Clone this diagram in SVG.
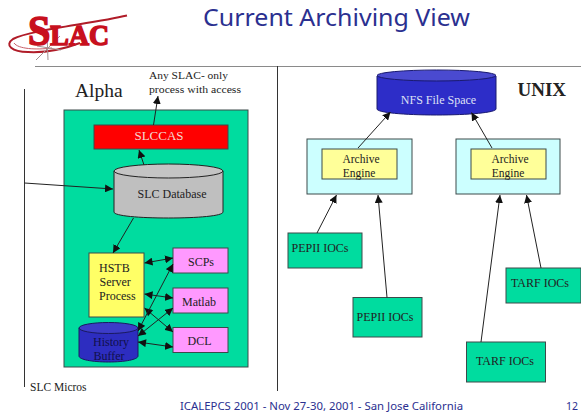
<svg xmlns="http://www.w3.org/2000/svg" width="581" height="415" viewBox="0 0 581 415">
<style>
.s{font-family:"Liberation Serif","Times New Roman",serif;fill:#222}
.t{font-family:"Noto Sans","DejaVu Sans",sans-serif;fill:#2b3090}
.b{stroke:#3c4a4a;stroke-width:1}
.c{stroke:#222;stroke-width:1}
.e{stroke:#222;stroke-width:1}
.a{stroke:#222;stroke-width:1;fill:none;marker-end:url(#h)}
.d{stroke:#222;stroke-width:1;fill:none;marker-end:url(#h);marker-start:url(#hs)}
.m{text-anchor:middle;font-size:12px}
</style>
<defs>
<marker id="h" markerUnits="userSpaceOnUse" markerWidth="9" markerHeight="8" refX="8" refY="4" orient="auto"><path d="M0 0L8 4L0 8z" fill="#111"/></marker>
<marker id="hs" markerUnits="userSpaceOnUse" markerWidth="9" markerHeight="8" refX="0" refY="4" orient="auto"><path d="M8 0L0 4L8 8z" fill="#111"/></marker>
</defs>
<rect width="581" height="415" fill="#fff"/>
<g id="logo">
<path d="M127 15.500C90 24 30 30 13 39C4 45 12 52 28 52C46 53 64 49 80 43" fill="none" stroke="#b01c28" stroke-width="2"/>
<path d="M14 43C18 49 36 50 52 48" fill="none" stroke="#c8606a" stroke-width="1"/>
<path d="M36 60L60 36M37 46L61 50M47 34L48 60M40 56L58 38" stroke="#a09090" stroke-width="1" fill="none"/>
<text x="28" y="45" font-family="Liberation Serif,serif" font-weight="bold" font-size="29" fill="#c8101e" stroke="#c8101e" stroke-width="1.600" textLength="81" lengthAdjust="spacingAndGlyphs"><tspan font-size="42">S</tspan>LAC</text>
</g>
<text id="title" class="t" x="203" y="26" font-size="24" textLength="267" lengthAdjust="spacingAndGlyphs">Current Archiving View</text>
<g id="frame">
<path d="M35 66.500H581" stroke="#8a8a8a" stroke-width="1" fill="none"/>
<path d="M277.500 66V391M24.500 89V387" stroke="#333" stroke-width="1" fill="none"/>
</g>
<text class="s" x="75" y="97" font-size="19.500">Alpha</text>
<text class="s" x="149" y="79" font-size="10.500" textLength="79" lengthAdjust="spacingAndGlyphs">Any SLAC- only</text>
<text class="s" x="149" y="93" font-size="10.500" textLength="92" lengthAdjust="spacingAndGlyphs">process with access</text>
<text class="s" x="517.500" y="96" font-size="19" font-weight="bold">UNIX</text>
<text class="s" x="30" y="391" font-size="11.500">SLC Micros</text>
<g id="alpha"><rect class="b" x="64" y="110" width="184" height="257" fill="#00dc9f"/></g>
<g id="slccas"><rect class="b" x="94" y="125" width="134" height="24" fill="#f00"/><text class="s m" x="159" y="140" style="fill:#f4d8d0;font-size:13px">SLCCAS</text></g>
<g id="slcdb">
<path class="c" d="M114 171V212C114 216 140 218 168.500 218S223 216 223 212V171z" fill="#bfbfbf"/>
<ellipse class="e" cx="168.500" cy="171" rx="54.500" ry="7" fill="#c4c4c4"/>
<text class="s m" x="172" y="198">SLC Database</text>
</g>
<g id="hstb"><rect class="b" x="89" y="253" width="55" height="64" fill="#ffff66"/>
<text class="s" x="99" y="272" font-size="12">HSTB</text><text class="s" x="99.500" y="286" font-size="12">Server</text><text class="s" x="99" y="300" font-size="12">Process</text></g>
<g id="scps"><rect class="b" x="173" y="248" width="55" height="25" fill="#ff99ff"/><text class="s m" x="201" y="266">SCPs</text></g>
<g id="matlab"><rect class="b" x="173" y="288" width="55" height="25" fill="#ff99ff"/><text class="s m" x="199" y="306">Matlab</text></g>
<g id="dcl"><rect class="b" x="173" y="327.500" width="55" height="25" fill="#ff99ff"/><text class="s m" x="199.500" y="345">DCL</text></g>
<g id="history">
<path d="M79 328V356C79 359.500 92 362 108.500 362S138 359.500 138 356V328z" fill="#2d2dc0" stroke="#1a1a60"/>
<ellipse cx="108.500" cy="328" rx="29.500" ry="5.500" fill="#3c3cc8" stroke="#1a1a60"/>
<text class="s m" x="111" y="346" style="fill:#10104a">History</text>
<text class="s m" x="109" y="360" style="fill:#10104a">Buffer</text>
</g>
<g id="nfs">
<path d="M377 76V109C377 112.500 404 115 436.500 115S496 112.500 496 109V76z" fill="#2d2dc8" stroke="#1a1a70"/>
<ellipse cx="436.500" cy="75.500" rx="59.500" ry="5.500" fill="#4a4ad0" stroke="#1a1a70"/>
<text class="s m" x="438.500" y="104" style="fill:#dfe0f5">NFS File Space</text>
</g>
<g id="engine1"><rect class="b" x="307" y="139" width="105" height="55" fill="#ccffff"/><rect class="b" x="322" y="149" width="75" height="30" fill="#ffff99"/>
<text class="s m" x="361" y="163" style="font-size:11.500px">Archive</text><text class="s m" x="359" y="177" style="font-size:11.500px">Engine</text></g>
<g id="engine2"><rect class="b" x="456" y="139" width="104" height="55" fill="#ccffff"/><rect class="b" x="471" y="149" width="75" height="30" fill="#ffff99"/>
<text class="s m" x="510" y="163" style="font-size:11.500px">Archive</text><text class="s m" x="508" y="177" style="font-size:11.500px">Engine</text></g>
<g id="pepii1"><rect class="b" x="288" y="233" width="74" height="35" fill="#00dc9f"/><text class="s m" x="320" y="252">PEPII IOCs</text></g>
<g id="pepii2"><rect class="b" x="353" y="297.500" width="69" height="39.500" fill="#00dc9f"/><text class="s m" x="385" y="321">PEPII IOCs</text></g>
<g id="tarf1"><rect class="b" x="506" y="268" width="75" height="35" fill="#00dc9f"/><text class="s m" x="540" y="287">TARF IOCs</text></g>
<g id="tarf2"><rect class="b" x="466.500" y="342" width="79" height="40" fill="#00dc9f"/><text class="s m" x="505" y="365">TARF IOCs</text></g>
<g id="connectors">
<path class="a" d="M153.500 125L158 96"/>
<path class="a" d="M144 165L139 150"/>
<path class="a" d="M24.500 183L113 189"/>
<path class="a" d="M133.500 218L113 253"/>
<path class="a" d="M358 148L390.500 112"/>
<path class="a" d="M492 148L471.500 112.500"/>
<path class="a" d="M317 233L336.500 195"/>
<path class="a" d="M387 297.500L378 195"/>
<path class="a" d="M481 342L500 195"/>
<path class="a" d="M541 268L526.500 195"/>
<path class="d" d="M144.500 263L173 258"/>
<path class="d" d="M144.500 294L173 298"/>
<path class="d" d="M144.500 308L173 332"/>
<path class="d" d="M138 331L173 264"/>
<path class="d" d="M138 336L173 308"/>
<path class="d" d="M138 342L173 347"/>
</g>
<text id="footer" class="t" x="180" y="410" font-size="10.500" textLength="283" lengthAdjust="spacingAndGlyphs">ICALEPCS 2001 - Nov 27-30, 2001 - San Jose California</text>
<text id="page" class="t" x="566" y="410" font-size="10.500">12</text>
</svg>
